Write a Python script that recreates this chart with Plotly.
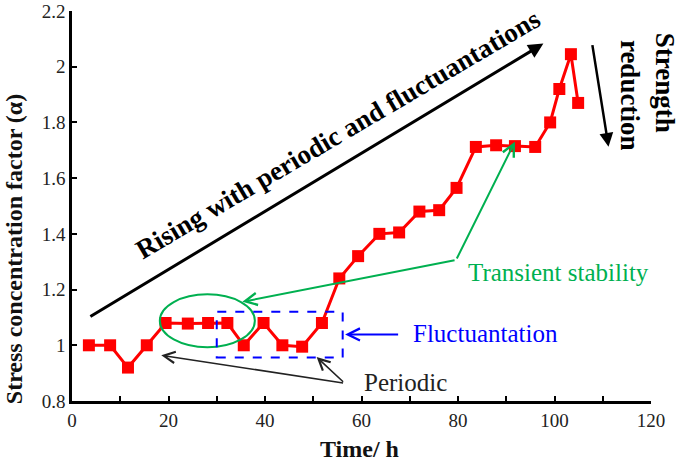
import plotly.graph_objects as go

# ---- data ----
time_h = [3.5, 7.9, 11.6, 15.5, 19.4, 24.0, 28.2, 32.2, 35.6, 39.7, 43.6, 47.7, 51.8, 55.4,
          59.3, 63.7, 67.8, 72.0, 76.1, 79.7, 83.7, 87.9, 91.8, 96.0, 99.1, 101.0, 103.4, 104.9]
alpha = [1.0, 1.0, 0.92, 1.0, 1.08, 1.078, 1.08, 1.08, 1.0, 1.08, 1.0, 0.995, 1.08, 1.24,
         1.32, 1.40, 1.405, 1.48, 1.485, 1.565, 1.712, 1.718, 1.715, 1.712, 1.80, 1.92, 2.045, 1.87]
y_ticks = [0.8, 1.0, 1.2, 1.4, 1.6, 1.8, 2.0, 2.2]
y_tick_text = ["0.8", "1", "1.2", "1.4", "1.6", "1.8", "2", "2.2"]
x_ticks = [0, 20, 40, 60, 80, 100, 120]

SERIF = "Liberation Serif"
GREEN = "#00B050"
BLUE = "#0000FF"
RED = "#FF0000"
DARK = "#222222"

fig = go.Figure()
fig.add_trace(go.Scatter(
    x=time_h, y=alpha, mode="lines+markers",
    line=dict(color=RED, width=3),
    marker=dict(symbol="square", size=12, color=RED),
    showlegend=False, cliponaxis=False,
))

axis_common = dict(ticks="inside", ticklen=5, tickwidth=2, tickcolor="black",
                   showline=True, linecolor="black", linewidth=2.5,
                   showgrid=False, zeroline=False, automargin=False,
                   tickfont=dict(family=SERIF, size=19, color=DARK))

fig.update_layout(
    width=685, height=462,
    margin=dict(l=72, r=34, t=11, b=61),
    paper_bgcolor="white", plot_bgcolor="white",
    font=dict(family=SERIF, color=DARK, size=19),
    xaxis=dict(range=[0, 120], tickvals=x_ticks,
               minor=dict(dtick=10, ticks="inside", ticklen=5, tickwidth=2, tickcolor="black",
                          showgrid=False),
               **axis_common),
    yaxis=dict(range=[0.8, 2.2], tickvals=y_ticks, ticktext=y_tick_text, **axis_common),
)

# shapes: green ellipse & blue dashed rectangle
fig.add_shape(type="circle", xref="x", yref="y", x0=18.2, x1=37.9, y0=0.993, y1=1.183,
              line=dict(color=GREEN, width=2))
fig.add_shape(type="rect", xref="x", yref="y", x0=30.0, x1=56.1, y0=0.956, y1=1.12,
              line=dict(color=BLUE, width=2, dash="dash"))

def arrow(x, y, ax, ay, color, width, head, size=1.0):
    fig.add_annotation(x=x, y=y, ax=ax, ay=ay, xref="x", yref="y", axref="x", ayref="y",
                       text="", showarrow=True, arrowhead=head, arrowwidth=width,
                       arrowsize=size, arrowcolor=color, standoff=0, startstandoff=0)

# big black arrows
arrow(97.7, 2.083, 3.5, 1.10, "black", 3, 2, 1.0)
arrow(111.2, 1.713, 107.8, 2.083, "black", 2.5, 2, 1.1)
# green transient stability arrows
arrow(35.3, 1.156, 79.6, 1.306, GREEN, 2, 5, 1.2)
arrow(91.8, 1.731, 79.6, 1.306, GREEN, 2, 5, 1.2)
# blue fluctuation arrow
arrow(56.6, 1.039, 67.9, 1.039, BLUE, 2, 5, 1.2)
# black periodic arrows
arrow(18.5, 0.964, 56.5, 0.864, DARK, 1.6, 5, 1.4)
arrow(50.7, 0.958, 56.5, 0.864, DARK, 1.6, 5, 1.4)

def label(x, y, text, color, size, bold=False, angle=0, ref="data"):
    xr, yr = ("x", "y") if ref == "data" else ("paper", "paper")
    fig.add_annotation(x=x, y=y, xref=xr, yref=yr, text=text, showarrow=False,
                       textangle=angle, xanchor="center", yanchor="middle",
                       font=dict(family=SERIF, size=size, color=color,
                                 weight="bold" if bold else "normal"))

label(55.2, 1.759, "Rising with periodic and fluctuantations", "black", 27, True, -30.5)
label(1.024, 0.816, "Strength", "black", 27, True, 90, ref="paper")
label(0.965, 0.783, "reduction", "black", 27, True, 90, ref="paper")
label(100.8, 1.263, "Transient stability", GREEN, 25)
label(85.6, 1.042, "Fluctuantation", BLUE, 25)
label(69.1, 0.868, "Periodic", DARK, 25)
label(-0.101, 0.388, "Stress concentration factor (α)", "#111111", 24, True, -90, ref="paper")
label(0.497, -0.122, "Time/ h", "#111111", 24, True, ref="paper")

fig.write_html("out.html", config={"displayModeBar": False},
               post_script="document.body.style.margin='0';")
